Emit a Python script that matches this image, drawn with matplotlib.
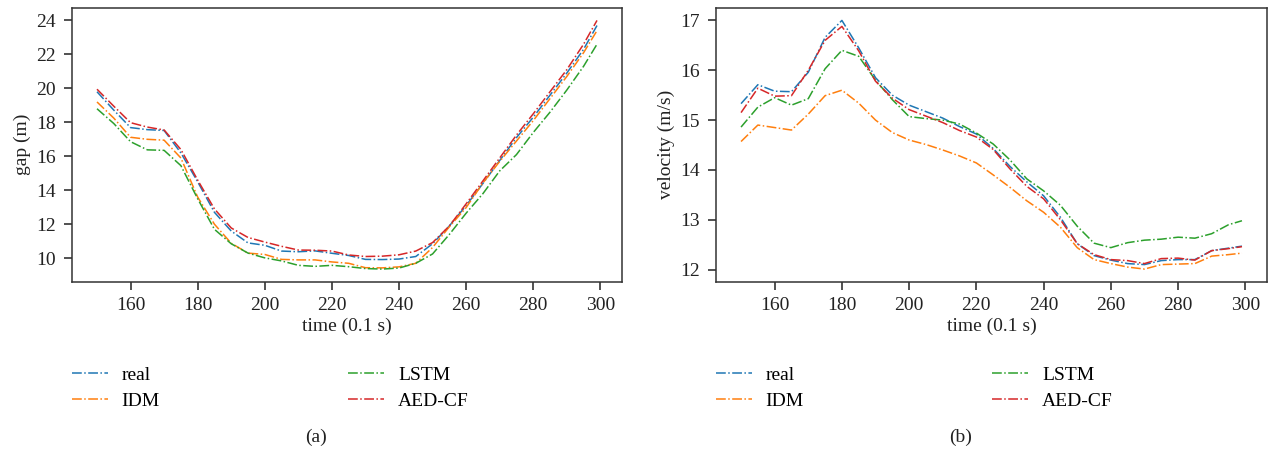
import matplotlib
matplotlib.use('Agg')
import matplotlib.pyplot as plt

plt.rcParams['font.family'] = ['Liberation Serif', 'DejaVu Serif']

# time axis (0.1 s)
t = [150, 155, 160, 165, 170, 175, 180, 185, 190, 195, 200, 205, 210, 215, 220,
     225, 230, 235, 240, 245, 250, 255, 260, 265, 270, 275, 280, 285, 290, 295, 299]

# gap (m)
gap_real = [19.8, 18.72, 17.69, 17.57, 17.52, 16.2, 14.5, 12.7, 11.6, 10.9, 10.76, 10.42, 10.38, 10.43, 10.29,
            10.16, 9.93, 9.92, 9.95, 10.1, 10.85, 11.9, 13.1, 14.4, 15.75, 17.1, 18.3, 19.6, 20.9, 22.3, 23.7]
gap_idm = [19.2, 18.25, 17.12, 17.0, 16.95, 15.9, 13.6, 12.0, 10.88, 10.3, 10.22, 9.93, 9.9, 9.9, 9.78,
           9.7, 9.44, 9.43, 9.49, 9.7, 10.63, 11.85, 12.98, 14.43, 15.7, 16.9, 18.1, 19.4, 20.7, 22.1, 23.4]
gap_lstm = [18.8, 17.93, 16.86, 16.38, 16.35, 15.45, 13.5, 11.7, 10.85, 10.3, 10.02, 9.84, 9.58, 9.52, 9.58,
            9.5, 9.39, 9.36, 9.42, 9.7, 10.25, 11.4, 12.65, 13.8, 15.14, 16.1, 17.4, 18.6, 19.9, 21.3, 22.6]
gap_aed = [19.95, 18.95, 17.98, 17.72, 17.55, 16.4, 14.6, 12.9, 11.78, 11.22, 10.95, 10.7, 10.48, 10.47, 10.42,
           10.19, 10.1, 10.12, 10.2, 10.42, 10.92, 11.9, 13.2, 14.55, 15.9, 17.25, 18.5, 19.8, 21.1, 22.6, 24.0]

# velocity (m/s)
vel_real = [15.33, 15.71, 15.58, 15.57, 15.96, 16.66, 17.0, 16.45, 15.85, 15.5, 15.3, 15.17, 15.04, 14.87, 14.72,
            14.43, 14.07, 13.76, 13.48, 13.05, 12.52, 12.28, 12.19, 12.12, 12.1, 12.18, 12.2, 12.2, 12.38, 12.43, 12.47]
vel_idm = [14.57, 14.9, 14.85, 14.8, 15.12, 15.49, 15.6, 15.34, 15.0, 14.75, 14.6, 14.51, 14.4, 14.28, 14.14,
           13.9, 13.65, 13.38, 13.15, 12.85, 12.44, 12.2, 12.12, 12.05, 12.01, 12.1, 12.11, 12.12, 12.27, 12.3, 12.33]
vel_lstm = [14.86, 15.26, 15.45, 15.3, 15.43, 16.03, 16.4, 16.28, 15.8, 15.41, 15.07, 15.03, 15.0, 14.92, 14.74,
            14.52, 14.2, 13.82, 13.58, 13.29, 12.87, 12.53, 12.44, 12.54, 12.59, 12.61, 12.65, 12.63, 12.72, 12.9, 12.98]
vel_aed = [15.15, 15.64, 15.48, 15.49, 16.0, 16.6, 16.88, 16.39, 15.78, 15.44, 15.21, 15.08, 14.95, 14.79, 14.66,
           14.41, 14.02, 13.67, 13.42, 13.0, 12.52, 12.3, 12.2, 12.18, 12.12, 12.22, 12.23, 12.19, 12.38, 12.42, 12.46]

labels = ['real', 'IDM', 'LSTM', 'AED-CF']
colors = ['#1f77b4', '#ff7f0e', '#2ca02c', '#d62728']

fig = plt.figure(figsize=(12.71, 4.57), dpi=100)
ax1 = fig.add_axes([72 / 1271, 175.5 / 457, 550 / 1271, 273.5 / 457])
ax2 = fig.add_axes([716 / 1271, 175.5 / 457, 551 / 1271, 273.5 / 457])

panels = [
    (ax1, [gap_real, gap_idm, gap_lstm, gap_aed], 'gap (m)', '(a)', 316),
    (ax2, [vel_real, vel_idm, vel_lstm, vel_aed], 'velocity (m/s)', '(b)', 961),
]

for ax, series, ylabel, tag, tag_x in panels:
    for ys, c, lab in zip(series, colors, labels):
        ax.plot(t, ys, linestyle='-.', color=c, linewidth=1.1, label=lab)
    ax.set_xlabel('time (0.1 s)', fontsize=14, color='#222222', labelpad=2)
    ax.set_ylabel(ylabel, fontsize=14, color='#222222')
    ax.tick_params(labelsize=14, colors='#222222', length=5.5, width=1.1, pad=6)
    for s in ax.spines.values():
        s.set_color('#333333')
        s.set_linewidth(1.1)
    ax.legend(loc='upper left', bbox_to_anchor=(0, -0.31), ncol=2, frameon=False,
              fontsize=14, borderpad=0, borderaxespad=0, handlelength=1.85,
              handletextpad=0.7, columnspacing=9.7, labelspacing=0.45)
    fig.text(tag_x / 1271, 1 - 437 / 457, tag, ha='center', va='center', fontsize=14, color='#222222')

ax1.set_xticks([160, 180, 200, 220, 240, 260, 280, 300])
ax1.set_yticks([10, 12, 14, 16, 18, 20, 22, 24])
ax2.set_xticks([160, 180, 200, 220, 240, 260, 280, 300])
ax2.set_yticks([12, 13, 14, 15, 16, 17])

fig.savefig('out.png', dpi=100)
